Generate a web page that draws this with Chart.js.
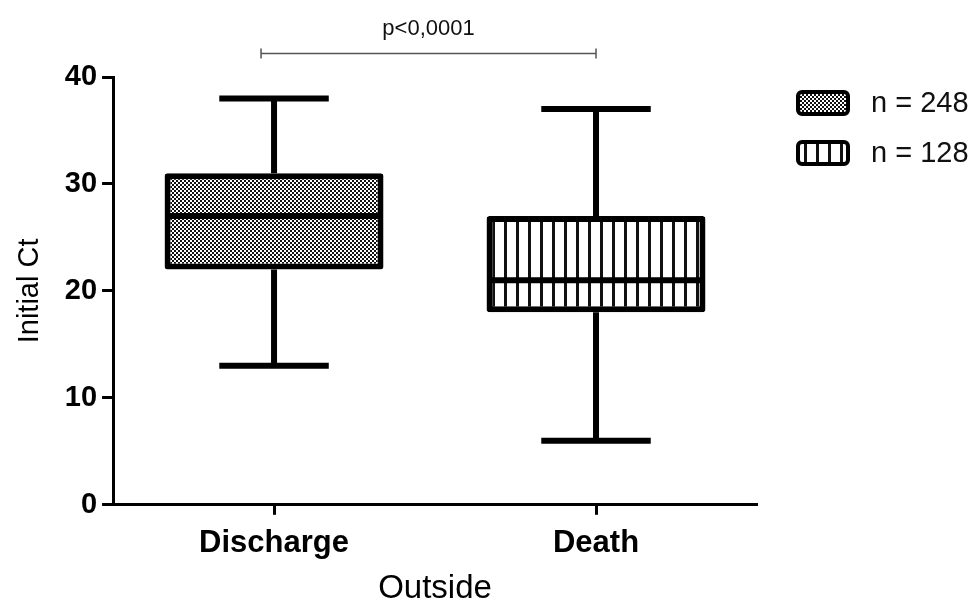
<!DOCTYPE html>
<html>
<head>
<meta charset="utf-8">
<script src="https://cdn.jsdelivr.net/npm/chart.js@4/dist/chart.umd.min.js"></script>
<style>
	body { margin: 0; background: #fff; }
	canvas { display: block; }
</style>
</head>
<body>
<canvas id="boxChart" width="979" height="605"></canvas>
<script>

// グループと五数要約 (Initial Ct)
var groups = ['Discharge', 'Death'];
var groupSizes = [248, 128];
var minVals = [13, 6];
var q1Vals = [22, 18];
var medianVals = [27, 21];
var q3Vals = [31, 27];
var maxVals = [38, 37];
var yTicks = [0, 10, 20, 30, 40];
var pText = 'p<0,0001';
var pBracketValue = 42.2;

var canvas = document.getElementById('boxChart');
var ctx = canvas.getContext('2d');

// チェック柄
function makeChecker() {
	var c = document.createElement('canvas');
	c.width = 4; c.height = 4;
	var g = c.getContext('2d');
	g.fillStyle = '#fff';
	g.fillRect(0, 0, 4, 4);
	g.fillStyle = '#111';
	g.fillRect(0, 0, 2, 2);
	g.fillRect(2, 2, 2, 2);
	return ctx.createPattern(c, 'repeat');
}

// 縦縞
function makeStripes() {
	var c = document.createElement('canvas');
	c.width = 12; c.height = 2;
	var g = c.getContext('2d');
	g.fillStyle = '#fff';
	g.fillRect(0, 0, 12, 2);
	g.fillStyle = '#111';
	g.fillRect(0, 0, 3, 2);
	return ctx.createPattern(c, 'repeat');
}

var patterns = [makeChecker(), makeStripes()];

var whiskerPlugin = {
	id: 'whiskers',
	afterDatasetsDraw: function(chart) {
		var c = chart.ctx;
		var y = chart.scales.y;
		var meta = chart.getDatasetMeta(0);
		c.save();
		c.strokeStyle = '#000';
		c.lineWidth = 6;
		meta.data.forEach(function(bar, i) {
			var cx = bar.x;
			var half = bar.width / 2;
			var pMin = y.getPixelForValue(minVals[i]);
			var pMax = y.getPixelForValue(maxVals[i]);
			var pQ1 = y.getPixelForValue(q1Vals[i]);
			var pQ3 = y.getPixelForValue(q3Vals[i]);
			var pMed = y.getPixelForValue(medianVals[i]);
			c.beginPath();
			c.moveTo(cx, pMax); c.lineTo(cx, pQ3);
			c.moveTo(cx, pQ1); c.lineTo(cx, pMin);
			c.moveTo(cx - half / 2, pMax); c.lineTo(cx + half / 2, pMax);
			c.moveTo(cx - half / 2, pMin); c.lineTo(cx + half / 2, pMin);
			c.moveTo(cx - half + 3, pMed); c.lineTo(cx + half - 3, pMed);
			c.stroke();
		});
		c.restore();
	},
	afterDraw: function(chart) {
		var c = chart.ctx;
		var area = chart.chartArea;
		var x = chart.scales.x;
		var y = chart.scales.y;

		// p値のブラケット
		var x0 = x.getPixelForValue(0) - 13;
		var x1 = x.getPixelForValue(1);
		var py = y.getPixelForValue(pBracketValue);
		c.save();
		c.strokeStyle = '#555';
		c.lineWidth = 1.5;
		c.beginPath();
		c.moveTo(x0, py); c.lineTo(x1, py);
		c.moveTo(x0, py - 5); c.lineTo(x0, py + 5);
		c.moveTo(x1, py - 5); c.lineTo(x1, py + 5);
		c.stroke();
		c.fillStyle = '#111';
		c.font = "22px 'Liberation Sans', Arial, sans-serif";
		c.textAlign = 'center';
		c.textBaseline = 'middle';
		c.fillText(pText, (x0 + x1) / 2, py - 25);

		// 凡例
		groupSizes.forEach(function(n, i) {
			var bx = area.right + 41;
			var by = area.top + 15 + i * 50;
			c.beginPath();
			c.roundRect(bx, by, 50, 22, 4);
			c.fillStyle = patterns[i];
			c.fill();
			c.lineWidth = 4;
			c.strokeStyle = '#000';
			c.stroke();
			c.fillStyle = '#111';
			c.font = "29px 'Liberation Sans', Arial, sans-serif";
			c.textAlign = 'left';
			c.textBaseline = 'middle';
			c.fillText('n = ' + n, bx + 73, by + 12);
		});
		c.restore();
	}
};

Chart.defaults.font.family = "'Liberation Sans', Arial, sans-serif";
Chart.defaults.color = '#000';

var boxChart = new Chart(ctx, {
	type: 'bar',
	data: {
		labels: groups,
		datasets: [{
			label: 'Initial Ct',
			data: groups.map(function(g, i) { return [q1Vals[i], q3Vals[i]]; }),
			backgroundColor: patterns,
			borderColor: '#000',
			borderWidth: 6,
			borderRadius: 3,
			borderSkipped: false,
			barPercentage: 0.68,
			categoryPercentage: 1
		}]
	},
	options: {
		responsive: false,
		animation: false,
		layout: {
			padding: { top: 77, right: 222, bottom: 0, left: 13 }
		},
		plugins: {
			legend: { display: false },
			tooltip: { enabled: false }
		},
		scales: {
			x: {
				offset: true,
				grid: {
					offset: false,
					drawOnChartArea: false,
					tickLength: 10,
					tickWidth: 3,
					tickColor: '#000'
				},
				border: { width: 3, color: '#000' },
				ticks: {
					padding: 10,
					font: { size: 31, weight: 'bold' }
				},
				title: {
					display: true,
					text: 'Outside',
					font: { size: 33, lineHeight: 1.0 },
					padding: { top: 0, bottom: 0 }
				}
			},
			y: {
				min: 0,
				max: 40,
				afterBuildTicks: function(scale) {
					scale.ticks = yTicks.map(function(v) { return { value: v }; });
				},
				grid: {
					drawOnChartArea: false,
					tickLength: 11,
					tickWidth: 3,
					tickColor: '#000'
				},
				border: { width: 3, color: '#000' },
				ticks: {
					padding: 5,
					font: { size: 29, weight: 'bold' }
				},
				title: {
					display: true,
					text: 'Initial Ct',
					font: { size: 29 },
					padding: { top: 0, bottom: 12 }
				}
			}
		}
	},
	plugins: [whiskerPlugin]
});

</script>
</body>
</html>
